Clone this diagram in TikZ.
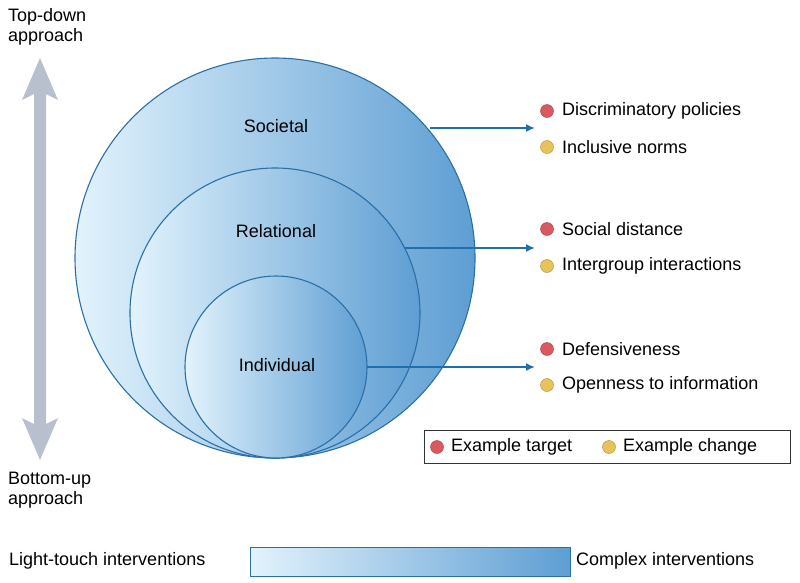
\documentclass[tikz,border=0pt]{standalone}
\usepackage{fontspec}
\setmainfont{Liberation Sans}
\begin{document}
\begin{tikzpicture}[x=1pt,y=-1pt,
  circ/.style={draw=cdark,line width=1.1pt},
  arr/.style={draw=carrow,line width=1.6pt,-{Latex[length=9pt,width=8pt]}},
  lab/.style={font=\fontsize{18}{20}\selectfont,anchor=west,inner sep=0pt},
  clab/.style={font=\fontsize{18}{20}\selectfont,inner sep=0pt},
  red/.style={circle,fill=cred,draw=cred!70!black,line width=0.4pt,minimum size=13pt,inner sep=0pt},
  yel/.style={circle,fill=cyel,draw=cyel!70!black,line width=0.4pt,minimum size=13pt,inner sep=0pt}]
\usetikzlibrary{arrows.meta}
\definecolor{cdark}{HTML}{2A6FA8}
\definecolor{carrow}{HTML}{1F6FAD}
\definecolor{clight}{HTML}{E2F3FC}
\definecolor{cdeep}{HTML}{5E9ED3}
\definecolor{cred}{HTML}{D9595F}
\definecolor{cyel}{HTML}{E8C35A}
\definecolor{cgray}{HTML}{B9C0CD}
\useasboundingbox (0,0) rectangle (800,582);
% circles
\shade[left color=clight,right color=cdeep] (275,258) circle (200);
\draw[circ] (275,258) circle (200);
\shade[left color=clight,right color=cdeep] (275,313) circle (145);
\draw[circ] (275,313) circle (145);
\shade[left color=clight,right color=cdeep] (276,367) circle (91);
\draw[circ] (276,367) circle (91);
\node[clab] (soc) at (276,126) {Societal};
\node[clab] (rel) at (276,231) {Relational};
\node[clab] (ind) at (277,365) {Individual};
% arrow endpoints
\coordinate (s1) at (430,128); \coordinate (s2) at (535,128);
\coordinate (r1) at (405,248); \coordinate (r2) at (535,248);
\coordinate (i1) at (367,367); \coordinate (i2) at (535,367);
\draw[arr] (s1) -- (s2);
\draw[arr] (r1) -- (r2);
\draw[arr] (i1) -- (i2);
% bullets
\node[red] (b1) at (547,111) {}; \node[lab] at (562,111) {Discriminatory policies};
\node[yel] (b2) at (547,147) {}; \node[lab] at (562,147) {Inclusive norms};
\node[red] (b3) at (547,229) {}; \node[lab] at (562,229) {Social distance};
\node[yel] (b4) at (547,266) {}; \node[lab] at (562,266) {Intergroup interactions};
\node[red] (b5) at (547,349) {}; \node[lab] at (562,349) {Defensiveness};
\node[yel] (b6) at (547,385) {}; \node[lab] at (562,385) {Openness to information};
% legend
\draw[line width=0.8pt,draw=black!80] (424,430) rectangle (790,463);
\node[red] (l1) at (437,447) {}; \node[lab] at (451,447) {Example target};
\node[yel] (l2) at (609,447) {}; \node[lab] at (623,447) {Example change};
% left arrow
\fill[cgray] (40,58) -- (58,100) -- (46,94) -- (46,424) -- (58,418) -- (40,460) -- (22,418) -- (34,424) -- (34,94) -- (22,100) -- cycle;
\node[lab,align=left,anchor=north west] (td) at (8,8) {Top-down\\approach};
\node[lab,align=left,anchor=north west] (bu) at (8,472) {Bottom-up\\approach};
% bottom bar
\shade[left color=clight,right color=cdeep] (250,547) rectangle (570,576);
\draw[draw=cdark,line width=0.8pt] (250,547) rectangle (570,576);
\node[lab] (lt) at (9,561) {Light-touch interventions};
\node[lab] (ci) at (576,561) {Complex interventions};
\end{tikzpicture}
\end{document}
